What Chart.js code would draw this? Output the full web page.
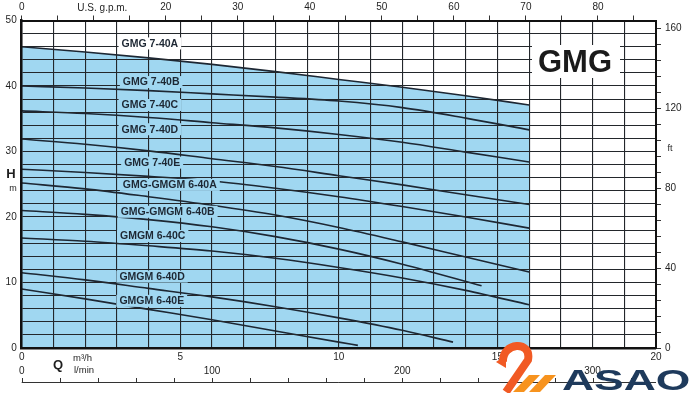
<!DOCTYPE html>
<html><head><meta charset="utf-8">
<script src="https://cdn.jsdelivr.net/npm/chart.js@4/dist/chart.umd.min.js"></script>
<style>html,body{margin:0;padding:0;background:#fff}canvas{display:block}</style>
</head><body>
<canvas id="c" width="691" height="393"></canvas>
<script>
// ---- data ----
const qFull = [0, 2, 4, 6, 8, 10, 12, 14, 16];
const q640B = [0, 2, 4, 6, 8, 10, 12, 14.5];
const q640D = [0, 2, 4, 6, 8, 10, 12, 13.6];
const q640E = [0, 2, 4, 6, 8, 10, 10.6];

const h740A = [46.0, 45.2, 44.3, 43.3, 42.2, 41.0, 39.8, 38.5, 37.1];
const h740B = [40.0, 39.7, 39.3, 38.8, 38.3, 37.7, 36.7, 35.1, 33.3];
const h740C = [36.2, 35.8, 35.2, 34.4, 33.6, 32.6, 31.4, 29.9, 28.4];
const h740D = [31.9, 31.1, 30.1, 28.9, 27.7, 26.3, 24.9, 23.4, 21.9];
const h740E = [27.3, 26.8, 26.2, 25.5, 24.4, 23.1, 21.6, 20.0, 18.3];
const h640A = [25.2, 24.3, 23.1, 21.8, 20.3, 18.4, 16.2, 13.9, 11.6];
const h640B = [21.0, 20.4, 19.6, 18.5, 17.0, 15.1, 12.8, 9.5];
const h640C = [16.8, 16.3, 15.6, 14.8, 13.7, 12.3, 10.7, 8.8, 6.6];
const h640D = [11.5, 10.4, 9.1, 7.8, 6.3, 4.6, 2.7, 0.9];
const h640E = [9.0, 7.5, 5.9, 4.3, 2.6, 0.9, 0.4];

const curveNames = ['GMG 7-40A','GMG 7-40B','GMG 7-40C','GMG 7-40D','GMG 7-40E',
  'GMG-GMGM 6-40A','GMG-GMGM 6-40B','GMGM 6-40C','GMGM 6-40D','GMGM 6-40E'];
const curveQ = [qFull, qFull, qFull, qFull, qFull, qFull, q640B, qFull, q640D, q640E];
const curveH = [h740A, h740B, h740C, h740D, h740E, h640A, h640B, h640C, h640D, h640E];
// label anchors (Q of left edge, H of centre)
const labelQ = [3.15, 3.19, 3.15, 3.15, 3.23, 3.19, 3.12, 3.10, 3.08, 3.08];
const labelH = [46.5, 40.6, 37.1, 33.4, 28.3, 24.9, 20.8, 17.1, 10.9, 7.2];

const hTicksM = [0, 10, 20, 30, 40, 50];
const qTicks = [0, 5, 10, 15, 20];
const lpmTicks = [0, 100, 200, 300];
const gpmTicks = [0, 20, 30, 40, 50, 60, 70, 80];
const ftTicks = [0, 40, 80, 120, 160];

const Q_MAX = 20, H_MAX = 50;
const M_TO_FT = 3.28084, M3H_TO_GPM = 4.40287, M3H_TO_LPM = 1000 / 60;

// ---- styles ----
const FONT = '"Liberation Sans", Arial, Helvetica, sans-serif';
const INK = '#1f1f1f';
const LINE = '#1d2733';
const GRID = '#23272b';
const BLUE = 'rgb(160,215,241)';

Chart.defaults.font.family = FONT;
Chart.defaults.color = INK;

function keepMultiples(step) {
  return s => { s.ticks = s.ticks.filter(t => Math.abs(t.value / step - Math.round(t.value / step)) < 1e-6); };
}
function showIn(list) {
  return v => { const r = Math.round(v); return (Math.abs(v - r) < 1e-6 && list.includes(r)) ? String(r) : ''; };
}
const pts = (qs, hs) => qs.map((q, i) => ({x: q, y: hs[i]}));

const datasets = curveNames.map((n, i) => ({
  label: n,
  data: pts(curveQ[i], curveH[i]),
  borderColor: LINE,
  borderWidth: 1.6,
  pointRadius: 0,
  cubicInterpolationMode: 'monotone',
  fill: i === 0 ? 'origin' : false,
  backgroundColor: i === 0 ? BLUE : 'transparent',
  order: i === 0 ? 10 : 0,
  xAxisID: 'x', yAxisID: 'y'
}));

function interp(qs, hs, q) {
  if (q <= qs[0]) return hs[0];
  for (let i = 1; i < qs.length; i++) if (q <= qs[i]) {
    const t = (q - qs[i-1]) / (qs[i] - qs[i-1]); return hs[i-1] + t * (hs[i] - hs[i-1]);
  }
  return -1;
}

const overlay = {
  id: 'overlay',
  afterDraw(chart) {
    const ctx = chart.ctx, x = chart.scales.x, y = chart.scales.y, x3 = chart.scales.x3,
          x2 = chart.scales.x2, y2 = chart.scales.y2;
    ctx.save();
    // curve labels
    ctx.font = 'bold 10.5px ' + FONT;
    ctx.textBaseline = 'middle'; ctx.textAlign = 'left';
    curveNames.forEach((n, i) => {
      const px = x.getPixelForValue(labelQ[i]), py = y.getPixelForValue(labelH[i]);
      const w = ctx.measureText(n).width;
      const inside = labelH[i] < interp(qFull, h740A, labelQ[i]);
      ctx.fillStyle = inside ? BLUE : '#fff';
      ctx.fillRect(px - 3, py - 6, w + 6, 12);
      ctx.fillStyle = LINE;
      ctx.fillText(n, px, py + 0.5);
    });
    // big GMG title
    ctx.fillStyle = '#fff';
    ctx.fillRect(532, 45, 88, 33);
    ctx.fillStyle = '#1a1a1a';
    ctx.font = 'bold 31px ' + FONT;
    ctx.fillText('GMG', 538, 63);
    // axis captions
    ctx.fillStyle = INK;
    ctx.font = 'bold 13px ' + FONT; ctx.textAlign = 'center';
    ctx.fillText('H', 11, 174);
    ctx.fillText('Q', 58, 365);
    ctx.font = '9px ' + FONT;
    ctx.fillText('m', 13, 189);
    ctx.fillText('ft', y2.left + 14, y2.getPixelForValue(100));
    ctx.textAlign = 'left';
    ctx.font = '9.5px ' + FONT;
    ctx.fillText('m\u00B3/h', 73, 358);
    ctx.fillText('l/min', 74, 370);
    ctx.font = '10px ' + FONT; ctx.textAlign = 'center';
    ctx.fillText('U.S. g.p.m.', x2.getPixelForValue(11.2), 8);
    // l/min scale line with tick marks
    const ly = x3.top + 20;
    ctx.strokeStyle = '#333'; ctx.lineWidth = 1;
    ctx.beginPath(); ctx.moveTo(x3.left, ly + 0.5); ctx.lineTo(x3.right, ly + 0.5); ctx.stroke();
    x3.ticks.forEach(t => {
      const px = Math.round(x3.getPixelForValue(t.value)) + 0.5;
      ctx.beginPath(); ctx.moveTo(px, ly - 4); ctx.lineTo(px, ly); ctx.stroke();
    });
    // ASAO logo
    ctx.fillStyle = '#f15a24'; ctx.strokeStyle = '#f15a24';
    ctx.lineWidth = 8; ctx.lineCap = 'butt';
    ctx.beginPath(); ctx.moveTo(503, 362); ctx.bezierCurveTo(502, 342, 532, 340, 528, 360); ctx.lineTo(506, 392); ctx.stroke();
    ctx.beginPath(); ctx.moveTo(496, 362); ctx.lineTo(506, 355); ctx.lineTo(506, 368); ctx.closePath(); ctx.fill();
    ctx.fillStyle = '#f7931e';
    ctx.beginPath(); ctx.moveTo(513, 392); ctx.lineTo(529, 375); ctx.lineTo(540, 375); ctx.lineTo(524, 392); ctx.closePath(); ctx.fill();
    ctx.beginPath(); ctx.moveTo(529, 392); ctx.lineTo(545, 375); ctx.lineTo(556, 375); ctx.lineTo(540, 392); ctx.closePath(); ctx.fill();
    ctx.fillStyle = '#1e3a5c';
    ctx.font = 'bold 30px ' + FONT; ctx.textAlign = 'left'; ctx.textBaseline = 'alphabetic';
    ctx.translate(562, 390); ctx.scale(1.48, 1);
    ctx.fillText('ASAO', 0, 0);
    ctx.restore();
  }
};

new Chart(document.getElementById('c'), {
  type: 'line',
  data: { datasets },
  plugins: [overlay],
  options: {
    responsive: false, animation: false, devicePixelRatio: 1,
    layout: { padding: 0 },
    plugins: { legend: { display: false }, tooltip: { enabled: false } },
    scales: {
      x: {
        type: 'linear', position: 'bottom', min: 0, max: Q_MAX, weight: 0,
        afterBuildTicks: keepMultiples(1),
        ticks: { stepSize: 1, autoSkip: false, maxTicksLimit: 1000, maxRotation: 0, padding: 3,
                 font: { size: 10 }, color: INK, callback: showIn(qTicks) },
        grid: { color: GRID, lineWidth: 1.1, drawTicks: false, z: 1 },
        border: { display: true, color: '#111', width: 2.5, z: 2 },
        afterFit: s => { s.height = 14; }
      },
      x3: {
        type: 'linear', position: 'bottom', min: 0, max: Q_MAX * M3H_TO_LPM, weight: 1,
        afterBuildTicks: keepMultiples(20),
        ticks: { stepSize: 20, includeBounds: false, autoSkip: false, maxTicksLimit: 1000, maxRotation: 0, padding: 3,
                 font: { size: 10 }, color: INK, callback: showIn(lpmTicks) },
        grid: { display: false, drawTicks: false },
        border: { display: false },
        afterFit: s => { s.height = 31; }
      },
      x2: {
        type: 'linear', position: 'top', min: 0, max: Q_MAX * M3H_TO_GPM,
        afterBuildTicks: keepMultiples(5),
        ticks: { stepSize: 5, includeBounds: false, autoSkip: false, maxTicksLimit: 1000, maxRotation: 0, padding: 2,
                 font: { size: 10 }, color: INK, callback: showIn(gpmTicks) },
        grid: { drawOnChartArea: false, drawTicks: true, tickLength: 5, color: '#333' },
        border: { display: true, color: '#111', width: 2, z: 2 },
        afterFit: s => { s.height = 20.5; }
      },
      y: {
        type: 'linear', position: 'left', min: 0, max: H_MAX,
        afterBuildTicks: keepMultiples(2),
        ticks: { stepSize: 2, autoSkip: false, maxTicksLimit: 1000, padding: 5,
                 font: { size: 10 }, color: INK, callback: showIn(hTicksM) },
        grid: { color: GRID, lineWidth: 1.1, drawTicks: false, z: 1 },
        border: { display: true, color: '#111', width: 2.5, z: 2 },
        afterFit: s => { s.width = 21.7; }
      },
      y2: {
        type: 'linear', position: 'right', min: 0, max: H_MAX * M_TO_FT,
        afterBuildTicks: keepMultiples(8),
        ticks: { stepSize: 8, includeBounds: false, autoSkip: false, maxTicksLimit: 1000, padding: 4,
                 font: { size: 10 }, color: INK, callback: showIn(ftTicks) },
        grid: { drawOnChartArea: false, drawTicks: true, tickLength: 5, color: '#333' },
        border: { display: true, color: '#111', width: 2, z: 2 },
        afterFit: s => { s.width = 35; }
      }
    }
  }
});
</script>
</body></html>
